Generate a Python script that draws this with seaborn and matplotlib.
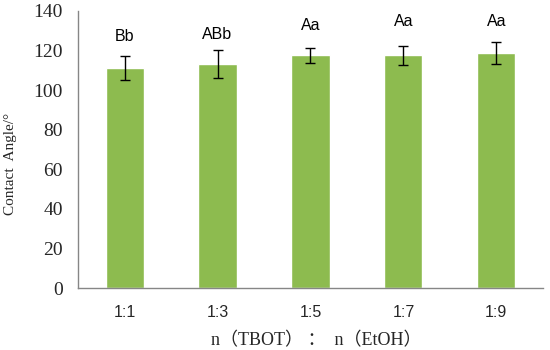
import matplotlib
matplotlib.use("Agg")
import matplotlib.pyplot as plt
import seaborn as sns
import pandas as pd
import numpy as np

categories = ["1:1", "1:3", "1:5", "1:7", "1:9"]
means = [111.2, 113.2, 117.5, 117.7, 118.6]
errors = [6.0, 6.9, 3.7, 4.8, 5.5]
letters = ["Bb", "ABb", "Aa", "Aa", "Aa"]
y_ticks = [0, 20, 40, 60, 80, 100, 120, 140]

df = pd.DataFrame({"ratio": categories, "angle": means})

sns.set_theme(style="white")
plt.rcParams["axes.unicode_minus"] = False

fig = plt.figure(figsize=(5.5, 3.5), dpi=100)
ax = fig.add_axes([0.142, 0.177, 0.845, 0.792])

sns.barplot(data=df, x="ratio", y="angle", color="#8DBB4F", saturation=1,
            width=0.41, ax=ax, errorbar=None)
xs = np.arange(len(categories))
ax.errorbar(xs, means, yerr=errors, fmt="none", ecolor="black",
            elinewidth=1.0, capsize=3.5, capthick=1.0)

label_offsets = [9.8, 7.9, 11.3, 11.9, 10.7]
for x, m, e, t, off in zip(xs, means, errors, letters, label_offsets):
    ax.text(x, m + e + off, t, ha="center", va="center", fontsize=11.5,
            family=["Liberation Sans", "DejaVu Sans"], color="black")

ax.set_ylim(0, 140)
ax.set_xlim(-0.5, len(categories) - 0.5)
ax.set_yticks(y_ticks)
ax.set_yticklabels([str(v) for v in y_ticks], family="Liberation Serif", fontsize=14)

# category boundary ticks (Excel style)
ax.set_xticks(np.arange(-0.5, len(categories)), minor=False)
ax.set_xticklabels([])
ax.set_xticks(xs, minor=True)
ax.set_xticklabels(categories, minor=True, family=["Liberation Sans"], fontsize=11.5)
ax.tick_params(axis="x", which="major", direction="out", length=5, color="#868686", width=1)
ax.tick_params(axis="x", which="minor", length=0, pad=12)
ax.tick_params(axis="y", direction="out", length=5, color="#868686", width=1, pad=6)

for s in ["top", "right"]:
    ax.spines[s].set_visible(False)
for s in ["left", "bottom"]:
    ax.spines[s].set_color("#868686")
    ax.spines[s].set_linewidth(1)

ax.set_ylabel("Contact  Angle/°", family=["Liberation Serif"], fontsize=11)
ax.yaxis.set_label_coords(-0.131, 0.449)
ax.set_xlabel("n（TBOT） ：  n（EtOH）", family=["Liberation Serif", "Noto Sans CJK SC"],
              fontsize=13)
ax.xaxis.set_label_coords(0.513, -0.158)

fig.savefig("out.png", dpi=100)
